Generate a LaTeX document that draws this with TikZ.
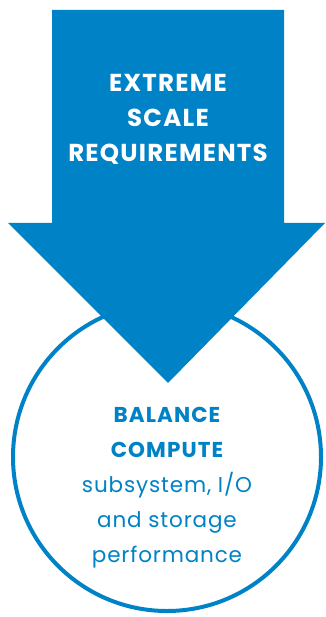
\documentclass[tikz,border=0pt]{standalone}
\usepackage{fontspec}
\setmainfont{Poppins}[LetterSpace=4]
\newfontfamily\capsfont[LetterSpace=5]{Poppins}
\usetikzlibrary{shapes.geometric}
\definecolor{flowblue}{HTML}{0082C6}

\begin{document}
\begin{tikzpicture}[
            x = 1pt, y = -1pt, % pixel grid, y pointing down
            ring/.style = {
                circle,
                draw = flowblue,
                line width = 4pt, % outline of the circle
                fill = white,
                inner sep = 0pt,
                minimum size = 308pt
            },
            headline/.style = {
                align = center,
                font = \capsfont\bfseries\fontsize{24.5}{35}\selectfont
            },
            bodytext/.style = {
                align = center,
                text = flowblue,
                font = \fontsize{21.5}{35}\selectfont
            }
        ]

        \useasboundingbox (0,0) rectangle (325,617);

        % circle below the arrow
        \node[ring] (goal) at (167,457) {};

        % big arrow pointing down
        \fill[flowblue] (52,10) -- (284,10) -- (284,223) -- (325,223)
            -- (168,383) -- (8,223) -- (52,223) -- cycle;
        \node[headline, text = white] (need) at (168,119)
            {EXTREME\\SCALE\\REQUIREMENTS};

        % text inside the circle
        \node[bodytext] (aim) at (167,488)
            {{\capsfont\bfseries BALANCE}\\{\capsfont\bfseries COMPUTE}\\subsystem, I/O\\and storage\\performance};
    \end{tikzpicture}
\end{document}
